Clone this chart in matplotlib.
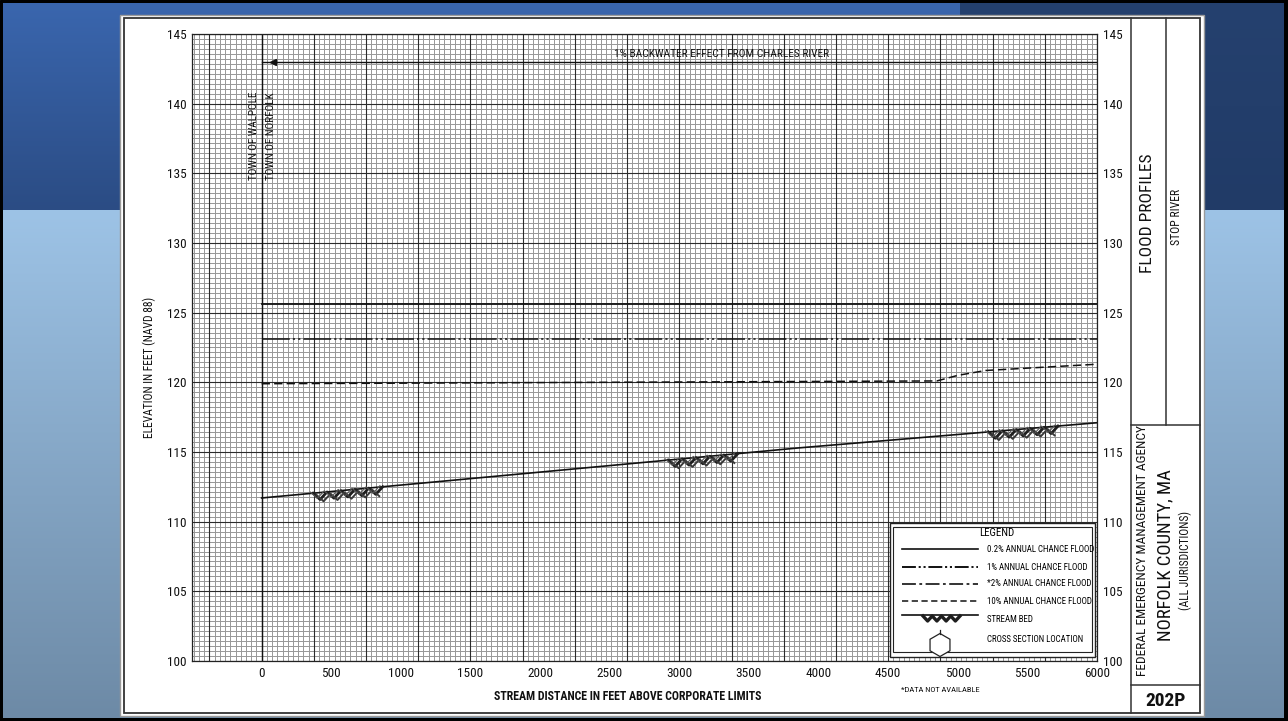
import numpy as np
import matplotlib
matplotlib.use("Agg")
import matplotlib.pyplot as plt
from matplotlib import font_manager as fm
from matplotlib.patches import Rectangle, RegularPolygon
from matplotlib.colors import LinearSegmentedColormap

# ---------------- data ----------------
x_ticks = [0, 500, 1000, 1500, 2000, 2500, 3000, 3500, 4000, 4500, 5000, 5500, 6000]
y_ticks = [100, 105, 110, 115, 120, 125, 130, 135, 140, 145]

flood_02_x = [0, 6000]
flood_02_y = [125.6, 125.6]

flood_1_x = [0, 6000]
flood_1_y = [123.1, 123.1]

flood_10_x = [0, 4850, 5000, 5200, 6000]
flood_10_y = [119.9, 120.1, 120.5, 120.85, 121.3]

bed_x = [0, 1350, 3865, 6000]
bed_y = [111.7, 112.95, 115.3, 117.1]

bed_symbol_start = [370, 2920, 5220]
bed_symbol_len = 500

backwater_y = 143.0

# ---------------- fonts ----------------
names = {f.name for f in fm.fontManager.ttflist}
FONT = "DejaVu Sans"
for cand in ["Roboto Condensed", "Archivo Narrow", "Barlow Semi Condensed", "Barlow Condensed"]:
    if cand in names:
        FONT = cand
        break
plt.rcParams["font.family"] = [FONT, "DejaVu Sans"]
plt.rcParams["font.weight"] = "normal"
plt.rcParams["lines.scale_dashes"] = False

W, H = 1288, 721
fig = plt.figure(figsize=(W / 100, H / 100), dpi=100)

# ---------------- background (pixel coords) ----------------
bg = fig.add_axes([0, 0, 1, 1])
bg.axis("off")
bg.add_patch(Rectangle((0, 0), W, H, color="black", zorder=0))

def vgrad(x0, x1, y0, y1, c0, c1, z=1):
    cmap = LinearSegmentedColormap.from_list("g", [c0, c1])
    g = np.linspace(0, 1, 256).reshape(-1, 1)
    bg.imshow(g, cmap=cmap, extent=(x0, x1, y1, y0), aspect="auto",
              interpolation="bicubic", zorder=z)

vgrad(3, 1284, 210, 718, "#9dc3e6", "#6d8aa6", 1)
vgrad(3, 960, 3, 210, "#3a66ae", "#2b4c84", 1)
vgrad(960, 1284, 3, 210, "#25416f", "#213b67", 1)
bg.set_xlim(0, W)
bg.set_ylim(H, 0)

# paper
bg.add_patch(Rectangle((120, 15), 1084, 701, facecolor="white", edgecolor="#9a9a9a", lw=1, zorder=2))
bg.add_patch(Rectangle((124, 18), 1076, 695, facecolor="none", edgecolor="#333333", lw=1.3, zorder=3))
# title block lines
bg.plot([1131, 1131], [18, 713], color="#333333", lw=1.1, zorder=3)
bg.plot([1166, 1166], [18, 425], color="#333333", lw=1.1, zorder=3)
bg.plot([1131, 1200], [425, 425], color="#333333", lw=1.1, zorder=3)
bg.plot([1131, 1200], [685, 685], color="#333333", lw=1.1, zorder=3)

tk = dict(color="#111111", zorder=4)
bg.text(1148, 213, "FLOOD PROFILES", rotation=90, ha="center", va="center", fontsize=12.5, **tk)
bg.text(1177, 217, "STOP RIVER", rotation=90, ha="center", va="center", fontsize=8.5, **tk)
bg.text(1143, 551, "FEDERAL EMERGENCY MANAGEMENT AGENCY", rotation=90, ha="center", va="center", fontsize=9.6, **tk)
bg.text(1165, 555, "NORFOLK COUNTY, MA", rotation=90, ha="center", va="center", fontsize=13.5, **tk)
bg.text(1185, 560, "(ALL JURISDICTIONS)", rotation=90, ha="center", va="center", fontsize=8.3, **tk)
bg.text(1166, 701, "202P", ha="center", va="center", fontsize=14, fontweight="bold", **tk)

bg.text(149, 367, "ELEVATION IN FEET (NAVD 88)", rotation=90, ha="center", va="center", fontsize=8.3, **tk)
bg.text(628, 697, "STREAM DISTANCE IN FEET ABOVE CORPORATE LIMITS", ha="center", va="center",
        fontsize=8.6, fontweight="bold", **tk)
bg.text(940, 690, "*DATA NOT AVAILABLE", ha="center", va="center", fontsize=6, **tk)

# ---------------- main axes ----------------
L, R, T, B = 192, 1097, 34, 661
ax = fig.add_axes([L / W, (H - B) / H, (R - L) / W, (B - T) / H])
ax.set_xlim(-500, 6000)
ax.set_ylim(100, 145)
ax.set_facecolor("white")
ax.set_zorder(5)

# grid paper
fine_x = np.arange(-487.5, 6000.1, 37.5)
major_x = np.arange(-375, 6000.1, 375)
fine_y = np.arange(100, 145.01, 5 / 14)
major_y = np.arange(100, 145.01, 5)
ax.vlines(fine_x, 100, 145, color="#979797", lw=0.7, zorder=1)
ax.hlines(fine_y, -500, 6000, color="#979797", lw=0.7, zorder=1)
ax.vlines(major_x, 100, 145, color="#2b2b2b", lw=0.8, zorder=1.5)
ax.hlines(major_y, -500, 6000, color="#2b2b2b", lw=0.8, zorder=1.5)

for s in ax.spines.values():
    s.set_color("#222222")
    s.set_linewidth(0.9)

ax.set_xticks(x_ticks)
ax.set_yticks(y_ticks)
ax.tick_params(axis="both", length=0, labelsize=9.5, colors="#111111")
ax.tick_params(axis="x", pad=4)
ax.tick_params(axis="y", pad=4, labelright=True, labelleft=True)

# town boundary / backwater
ax.axvline(0, color="#111111", lw=1.0, zorder=2)
ax.plot([0, 6000], [backwater_y, backwater_y], color="#111111", lw=1.0, zorder=3)
ax.plot([85], [backwater_y], marker="<", ms=4, color="#111111", zorder=3)
ax.text(3300, 143.55, "1% BACKWATER EFFECT FROM CHARLES RIVER", ha="center", va="center",
        fontsize=8.2, color="#111111", zorder=3)
ax.text(-55, 134.5, "TOWN OF WALPOLE", rotation=90, ha="center", va="bottom", fontsize=8, color="#111111", zorder=3)
ax.text(68, 134.5, "TOWN OF NORFOLK", rotation=90, ha="center", va="bottom", fontsize=8, color="#111111", zorder=3)

# profiles
ax.plot(flood_02_x, flood_02_y, color="#111111", lw=1.3, zorder=4)
ax.plot(flood_1_x, flood_1_y, color="#111111", lw=1.1, dashes=[20, 2.2, 1.6, 2.2, 1.6, 2.2], zorder=4)
ax.plot(flood_10_x, flood_10_y, color="#111111", lw=1.1, dashes=[6, 3], zorder=4)
ax.plot(bed_x, bed_y, color="#111111", lw=1.2, zorder=4)

def bed_at(x):
    return np.interp(x, bed_x, bed_y)

def zigzag(x0, length, period, top, bot):
    n = int(round(length / (period / 2)))
    xs = x0 + np.arange(n + 1) * period / 2
    ys = [bed_at(xx) + (top if i % 2 == 0 else bot) for i, xx in enumerate(xs)]
    return xs, np.array(ys)

for s in bed_symbol_start:
    xs, ys = zigzag(s, bed_symbol_len, 100, 0.0, -0.5)
    ax.plot(xs, ys, color="#1e1e1e", lw=2.0, zorder=4)
    xs, ys = zigzag(s + 25, bed_symbol_len - 50, 100, -0.15, -0.65)
    ax.plot(xs, ys, color="#3a3a3a", lw=1.4, zorder=4)
    xs, ys = zigzag(s - 20, bed_symbol_len, 100, 0.1, -0.4)
    ax.plot(xs, ys, color="#555555", lw=0.8, zorder=4)

# ---------------- legend ----------------
lx0, lx1, ly0, ly1 = 0.771, 0.998, 0.007, 0.220
ax.add_patch(Rectangle((lx0, ly0), lx1 - lx0, ly1 - ly0, transform=ax.transAxes,
                       facecolor="white", edgecolor="#222222", lw=1.0, zorder=6))
ax.add_patch(Rectangle((lx0 + 0.004, ly0 + 0.007), lx1 - lx0 - 0.008, ly1 - ly0 - 0.014,
                       transform=ax.transAxes, facecolor="none", edgecolor="#222222", lw=0.8, zorder=6))

def ax_px(px, py):
    return ((px - L) / (R - L), (B - py) / (B - T))

tr = ax.transAxes
x_a, _ = ax_px(902, 0)
x_b, _ = ax_px(978, 0)
x_t, _ = ax_px(987, 0)
ax.text(ax_px(997, 0)[0], ax_px(0, 533)[1], "LEGEND", transform=tr, ha="center", va="center", fontsize=7.8, zorder=7)
legend_rows = [
    (549, "0.2% ANNUAL CHANCE FLOOD", dict(lw=1.2)),
    (567, "1% ANNUAL CHANCE FLOOD", dict(lw=1.4, dashes=[10, 2, 1.5, 2, 1.5, 2])),
    (584, "*2% ANNUAL CHANCE FLOOD", dict(lw=1.2, dashes=[10, 2.5, 2, 2.5])),
    (601, "10% ANNUAL CHANCE FLOOD", dict(lw=1.1, dashes=[4.5, 2.5])),
]
for py, label, kw in legend_rows:
    _, yy = ax_px(0, py)
    ax.plot([x_a, x_b], [yy, yy], transform=tr, color="#111111", zorder=7, **kw)
    ax.text(x_t, yy, label, transform=tr, ha="left", va="center", fontsize=6.4, zorder=7)

_, ysb = ax_px(0, 615)
ax.plot([x_a, x_b], [ysb, ysb], transform=tr, color="#111111", lw=1.2, zorder=7)
zx = np.linspace(ax_px(923, 0)[0], ax_px(960, 0)[0], 9)
zy = np.array([ax_px(0, 616 if i % 2 == 0 else 621)[1] for i in range(9)])
ax.plot(zx, zy, transform=tr, color="#1e1e1e", lw=2.4, zorder=7)
ax.text(x_t, ax_px(0, 619)[1], "STREAM BED", transform=tr, ha="left", va="center", fontsize=6.4, zorder=7)

ax.add_patch(RegularPolygon((940, 645), numVertices=6, radius=11.5, orientation=0,
                            transform=bg.transData, facecolor="white", edgecolor="#222222",
                            lw=0.9, zorder=8))
ax.plot([940, 940], [630, 634], transform=bg.transData, color="#222222", lw=0.9, zorder=8)
ax.text(x_t, ax_px(0, 640)[1], "CROSS SECTION LOCATION", transform=tr, ha="left", va="center", fontsize=6.4, zorder=7)

fig.savefig("out.png", dpi=100)
